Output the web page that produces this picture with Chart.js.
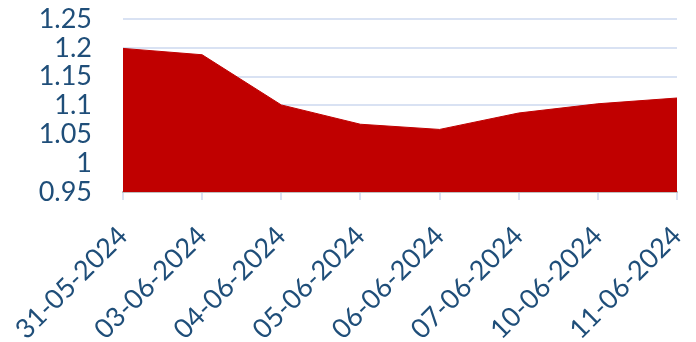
<!DOCTYPE html>
<html>
<head>
<meta charset="utf-8">
<script src="https://cdn.jsdelivr.net/npm/chart.js@4"></script>
<style>
  html, body { margin: 0; padding: 0; background: #fff; }
  #wrap { width: 696px; height: 342px; }
</style>
</head>
<body>
<div id="wrap"><canvas id="chart" width="696" height="342"></canvas></div>
<script>
// Données
const dates = ['31-05-2024', '03-06-2024', '04-06-2024', '05-06-2024',
               '06-06-2024', '07-06-2024', '10-06-2024', '11-06-2024'];
const values = [1.199, 1.188, 1.101, 1.0675, 1.0585, 1.087, 1.103, 1.113];
const yTicks = [0.95, 1, 1.05, 1.1, 1.15, 1.2, 1.25];

const textColor = '#1F4E79';
const font = { family: 'Lato', size: 27 };

const ctx = document.getElementById('chart').getContext('2d');
const chart = new Chart(ctx, {
    type: 'line',
    data: {
        labels: dates,
        datasets: [{
            data: values,
            backgroundColor: '#C00000',
            borderColor: '#C00000',
            borderWidth: 1,
            fill: 'start',
            pointRadius: 0,
            tension: 0
        }]
    },
    options: {
        responsive: false,
        animation: false,
        layout: { padding: 0 },
        plugins: { legend: { display: false }, tooltip: { enabled: false } },
        scales: {
            x: {
                offset: false,
                afterFit: s => { s.height = 150; s.paddingRight = 19; s.paddingLeft = 0; },
                grid: { drawOnChartArea: false, drawTicks: true, tickLength: 8, color: '#D9E2F3', lineWidth: 2 },
                border: { color: '#BFBFBF', width: 2 },
                ticks: { color: textColor, font: font, minRotation: 45, maxRotation: 45, padding: 20, autoSkip: false }
            },
            y: {
                min: 0.95,
                max: 1.25,
                afterBuildTicks: s => { s.ticks = yTicks.map(v => ({ value: v })); },
                afterFit: s => { s.width = 123; s.paddingTop = 19; s.paddingBottom = 0; },
                grid: { color: '#D9E2F3', lineWidth: 2, drawTicks: false },
                border: { display: false },
                ticks: {
                    color: textColor, font: font, padding: 31, autoSkip: false,
                    callback: v => String(Math.round(v * 100) / 100)
                }
            }
        }
    }
});
</script>
</body>
</html>
